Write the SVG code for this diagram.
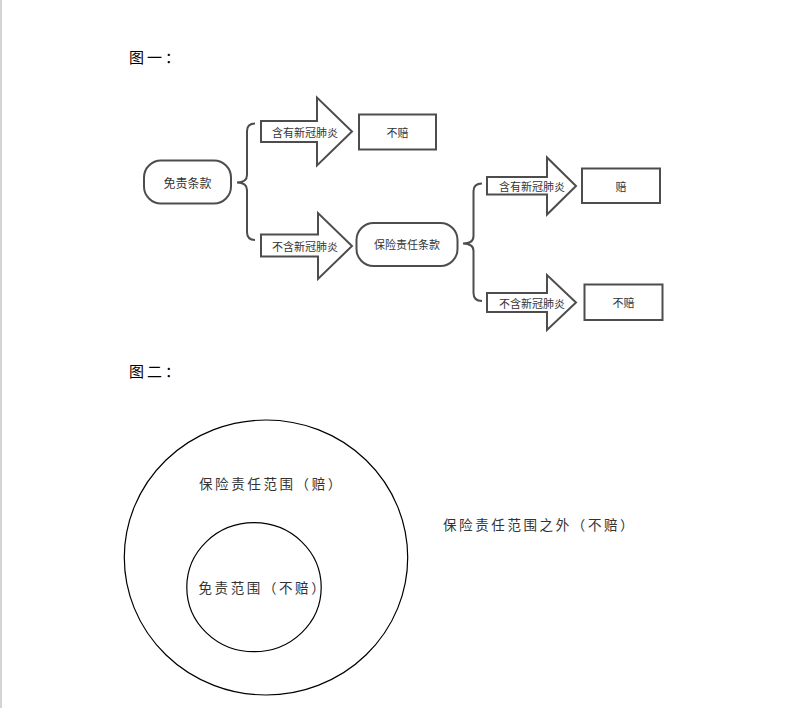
<svg xmlns="http://www.w3.org/2000/svg" width="792" height="708" viewBox="0 0 792 708">
<style>
text{font-family:"Noto Sans CJK SC","Noto Sans",sans-serif;fill:#333}
.shape{fill:#fff;stroke:#4d4d4d;stroke-width:2}
.brace{fill:none;stroke:#4d4d4d;stroke-width:2}
.arrow{fill:#fff;stroke:#4d4d4d;stroke-width:2;stroke-linejoin:miter}
.lbl{font-size:11px;text-anchor:middle;dominant-baseline:central}
.node{font-size:12px;text-anchor:middle;dominant-baseline:central}
.circ{fill:none;stroke:#000;stroke-width:1.2}
.ctext{font-size:13.5px;letter-spacing:2.6px;dominant-baseline:central}
.title{font-size:15px;letter-spacing:3px;dominant-baseline:central;fill:#000}
</style>
<rect x="0" y="0" width="792" height="708" fill="#fff"/>
<rect x="0" y="0" width="2" height="708" fill="#d4d4d4"/>
<text class="title" x="129" y="56">图一：</text>
<text class="title" x="129" y="370">图二：</text>

<g id="connectors">
  <path class="brace" d="M255,123.5 Q247,123.5 247,131 L247,175 Q247,182.5 237,182.5 Q247,182.5 247,190 L247,232 Q247,240 255,240"/>
  <path class="brace" d="M482,183.5 Q473.5,183.5 473.5,191 L473.5,236 Q473.5,243.5 463,243.5 Q473.5,243.5 473.5,251 L473.5,293 Q473.5,301 482,301"/>
  <g id="arrow1">
    <path class="arrow" d="M261,121 L317,121 L317,97.5 L352,131.5 L317,165.5 L317,142 L261,142 Z"/>
    <text class="lbl" x="305" y="131.5">含有新冠肺炎</text>
  </g>
  <g id="arrow2">
    <path class="arrow" d="M261,234.5 L318,234.5 L318,213 L352,246 L318,279 L318,256.5 L261,256.5 Z"/>
    <text class="lbl" x="305" y="245.5">不含新冠肺炎</text>
  </g>
  <g id="arrow3">
    <path class="arrow" d="M487,177 L547,177 L547,157.5 L576,186 L547,214.5 L547,194.5 L487,194.5 Z"/>
    <text class="lbl" x="532" y="185.5">含有新冠肺炎</text>
  </g>
  <g id="arrow4">
    <path class="arrow" d="M487,293 L547,293 L547,275 L576,302.5 L547,330 L547,312 L487,312 Z"/>
    <text class="lbl" x="532" y="302.5">不含新冠肺炎</text>
  </g>
</g>

<g id="node-mianze">
  <rect class="shape" x="144" y="160.5" width="87" height="43" rx="17"/>
  <text class="node" x="187.5" y="182">免责条款</text>
</g>
<g id="node-bupei1">
  <rect class="shape" x="359" y="114.5" width="77" height="35"/>
  <text class="lbl" x="397.5" y="132">不赔</text>
</g>
<g id="node-baoxian">
  <rect class="shape" x="356.5" y="223" width="101" height="43" rx="17"/>
  <text class="lbl" x="407" y="244">保险责任条款</text>
</g>
<g id="node-pei">
  <rect class="shape" x="582" y="168.5" width="78" height="34.5"/>
  <text class="lbl" x="621" y="186">赔</text>
</g>
<g id="node-bupei2">
  <rect class="shape" x="584.5" y="284.5" width="78" height="35.5"/>
  <text class="lbl" x="623.5" y="302">不赔</text>
</g>

<g id="venn-outer">
  <ellipse class="circ" cx="266" cy="557.5" rx="141.7" ry="137.5"/>
  <text class="ctext" x="199" y="482.5">保险责任范围（赔）</text>
</g>
<g id="venn-inner">
  <ellipse class="circ" cx="254" cy="587.2" rx="67.2" ry="64.5"/>
  <text class="ctext" x="198.5" y="586.5">免责范围（不赔）</text>
</g>
<g id="outside-label">
  <text class="ctext" x="443" y="523.5">保险责任范围之外（不赔）</text>
</g>
</svg>
